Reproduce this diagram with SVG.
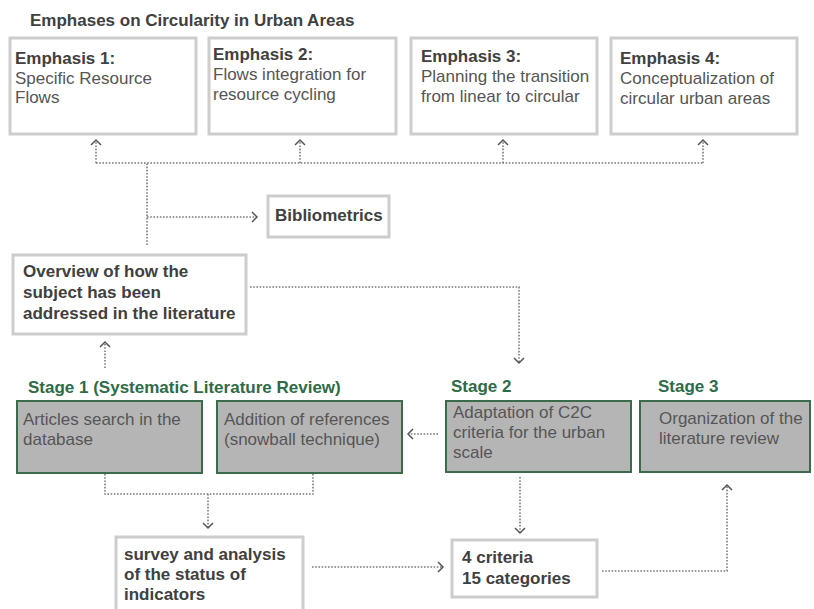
<svg xmlns="http://www.w3.org/2000/svg" width="814" height="609" viewBox="0 0 814 609">
<style>
text{font-family:"Liberation Sans",Arial,sans-serif;font-size:17px}
.b{font-weight:bold;fill:#404040}
.r{fill:#555555}
.g{font-weight:bold;fill:#2e6b47}
.wb{fill:#ffffff;stroke:#cdcdcd;stroke-width:3}
.sb{fill:#b5b5b5;stroke:#3a6b4a;stroke-width:2}
.c{fill:none;stroke:#7a7a7a;stroke-width:1.6;stroke-dasharray:1.6 1.6}
.a{marker-end:url(#arr)}
</style>
<defs>
<marker id="arr" markerUnits="userSpaceOnUse" markerWidth="12" markerHeight="12" refX="6" refY="6" orient="auto">
<path d="M1,1 L6,6 L1,11" fill="none" stroke="#555555" stroke-width="1.5"/>
</marker>
</defs>
<rect width="814" height="609" fill="#ffffff"/>
<text x="30" y="26" class="b">Emphases on Circularity in Urban Areas</text>
<g id="emphasis1">
<rect x="10" y="38" width="186" height="96" class="wb"/>
<text x="15" y="64" class="b">Emphasis 1:</text>
<text x="15" y="84" class="r">Specific Resource</text>
<text x="15" y="103" class="r">Flows</text>
</g>
<g id="emphasis2">
<rect x="209" y="38" width="187" height="96" class="wb"/>
<text x="213" y="60" class="b">Emphasis 2:</text>
<text x="213" y="80" class="r">Flows integration for</text>
<text x="213" y="100" class="r">resource cycling</text>
</g>
<g id="emphasis3">
<rect x="411" y="38" width="186" height="96" class="wb"/>
<text x="421" y="62" class="b">Emphasis 3:</text>
<text x="421" y="82" class="r">Planning the transition</text>
<text x="421" y="102" class="r">from linear to circular</text>
</g>
<g id="emphasis4">
<rect x="611" y="38" width="186" height="96" class="wb"/>
<text x="620" y="64" class="b">Emphasis 4:</text>
<text x="620" y="84" class="r">Conceptualization of</text>
<text x="620" y="104" class="r">circular urban areas</text>
</g>
<g id="bibliometrics">
<rect x="268" y="196" width="121" height="41" class="wb"/>
<text x="275" y="221" class="b">Bibliometrics</text>
</g>
<g id="overview">
<rect x="13" y="255" width="233" height="79" class="wb"/>
<text x="23" y="277" class="b">Overview of how the</text>
<text x="23" y="298" class="b">subject has been</text>
<text x="23" y="319" class="b">addressed in the literature</text>
</g>
<text x="28" y="393" class="g">Stage 1 (Systematic Literature Review)</text>
<text x="451" y="392" class="g">Stage 2</text>
<text x="658" y="392" class="g">Stage 3</text>
<g id="articles">
<rect x="17" y="401" width="185" height="72" class="sb"/>
<text x="23" y="425" class="r">Articles search in the</text>
<text x="23" y="445" class="r">database</text>
</g>
<g id="snowball">
<rect x="217" y="401" width="185" height="72" class="sb"/>
<text x="224" y="425" class="r">Addition of references</text>
<text x="224" y="445" class="r">(snowball technique)</text>
</g>
<g id="adaptation">
<rect x="446" y="401" width="185" height="71" class="sb"/>
<text x="453" y="418" class="r">Adaptation of C2C</text>
<text x="453" y="438" class="r">criteria for the urban</text>
<text x="453" y="458" class="r">scale</text>
</g>
<g id="organization">
<rect x="640" y="401" width="170" height="71" class="sb"/>
<text x="659" y="424" class="r">Organization of the</text>
<text x="659" y="444" class="r">literature review</text>
</g>
<g id="survey">
<rect x="116" y="537" width="187" height="80" class="wb"/>
<text x="124" y="560" class="b">survey and analysis</text>
<text x="124" y="580" class="b">of the status of</text>
<text x="124" y="600" class="b">indicators</text>
</g>
<g id="criteria">
<rect x="452" y="540" width="145" height="57" class="wb"/>
<text x="462" y="563" class="b">4 criteria</text>
<text x="462" y="584" class="b">15 categories</text>
</g>
<g id="connectors">
<path class="c" d="M147,245 V163"/>
<path class="c" d="M96,163 H703"/>
<path class="c a" d="M96,163 V140"/>
<path class="c a" d="M300,163 V140"/>
<path class="c a" d="M503,163 V140"/>
<path class="c a" d="M703,163 V140"/>
<path class="c a" d="M147,217 H257"/>
<path class="c a" d="M250,287 H519 V363"/>
<path class="c a" d="M105,368 V342"/>
<path class="c" d="M105,474 V494 H313 V474"/>
<path class="c a" d="M208,494 V528"/>
<path class="c a" d="M438,434 H408"/>
<path class="c a" d="M520,477 V533"/>
<path class="c a" d="M312,567 H443"/>
<path class="c a" d="M602,571 H727 V485"/>
</g>
</svg>
